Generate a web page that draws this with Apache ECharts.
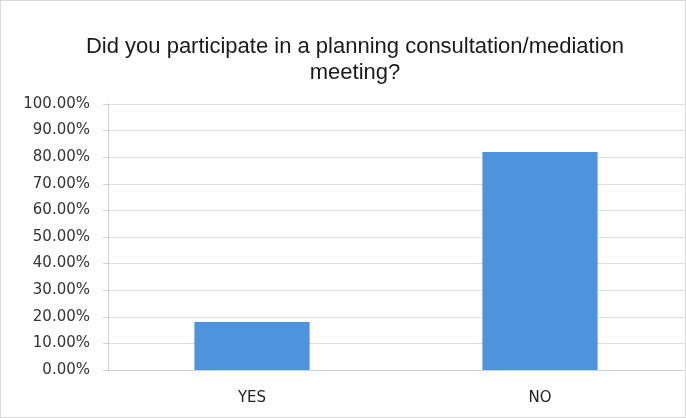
<!DOCTYPE html>
<html><head><meta charset="utf-8">
<script src="https://cdn.jsdelivr.net/npm/echarts@6/dist/echarts.min.js"></script>
<style>html,body{margin:0;padding:0;background:#fff}#c{width:686px;height:418px;box-sizing:border-box;border:1px solid #d9d9d9}</style>
</head><body><div id="c"></div>
<script>
const categories = ['YES', 'NO'];
const values = [18.0, 82.0];
const yTicks = [0, 10, 20, 30, 40, 50, 60, 70, 80, 90, 100];

const chart = echarts.init(document.getElementById('c'));
chart.setOption({
  animation: false,
  title: {
    text: 'Did you participate in a planning consultation/mediation\nmeeting?',
    left: 349, top: 28, textAlign: 'center',
    textStyle: { fontFamily: 'Liberation Sans', fontSize: 22, fontWeight: 'normal', color: '#1a1a1a', lineHeight: 26 }
  },
  grid: { left: 107, right: 1, top: 103, bottom: 47 },
  xAxis: {
    type: 'category', data: categories,
    axisLine: { lineStyle: { color: '#d0d0d0' } },
    axisTick: { show: false },
    axisLabel: { fontFamily: 'DejaVu Sans', fontSize: 15, color: '#222', margin: 21 }
  },
  yAxis: {
    type: 'value', min: 0, max: 100, interval: 10,
    axisLine: { show: true, lineStyle: { color: '#d0d0d0' } },
    axisTick: { show: true, length: 5, lineStyle: { color: '#d0d0d0' } },
    splitLine: { lineStyle: { color: '#dedede' } },
    axisLabel: { fontFamily: 'DejaVu Sans', fontSize: 15, color: '#333', margin: 18,
      formatter: v => yTicks.includes(v) ? v.toFixed(2) + '%' : '' }
  },
  series: [{
    type: 'bar', data: values, barWidth: '40%',
    itemStyle: { color: '#4d94dc' }
  }]
});
</script></body></html>
